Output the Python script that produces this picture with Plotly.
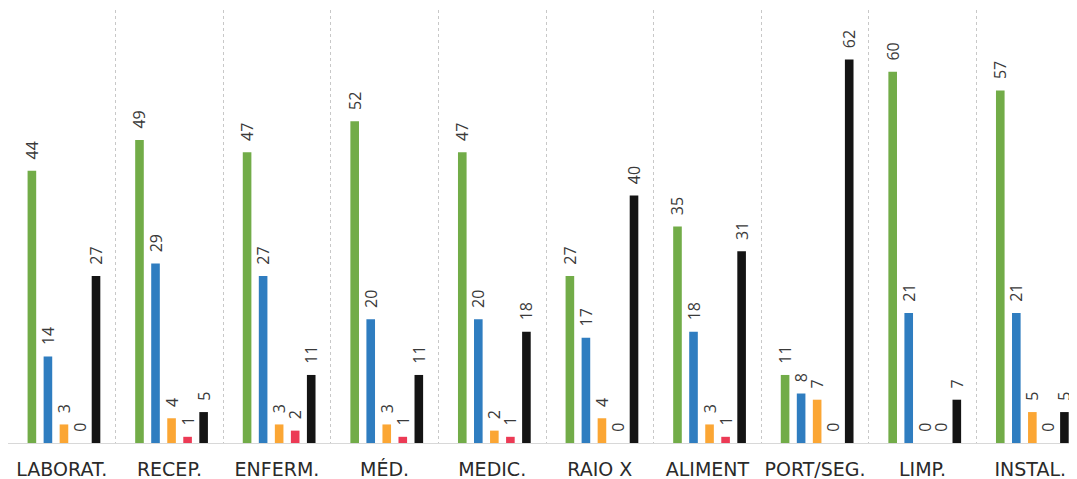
import plotly.graph_objects as go

categories = ["LABORAT.", "RECEP.", "ENFERM.", "MÉD.", "MEDIC.", "RAIO X",
              "ALIMENT", "PORT/SEG.", "LIMP.", "INSTAL."]
series_green = [44, 49, 47, 52, 47, 27, 35, 11, 60, 57]
series_blue = [14, 29, 27, 20, 20, 17, 18, 8, 21, 21]
series_orange = [3, 4, 3, 3, 2, 4, 3, 7, 0, 5]
series_red = [0, 1, 2, 1, 1, 0, 1, 0, 0, 0]
series_black = [27, 5, 11, 11, 18, 40, 31, 62, 7, 5]

series = [
    ("Verde", series_green, "#72AC48"),
    ("Azul", series_blue, "#2F7DC0"),
    ("Laranja", series_orange, "#FBA634"),
    ("Vermelho", series_red, "#EC3A55"),
    ("Preto", series_black, "#141414"),
]

xpos = list(range(len(categories)))

# bar geometry (in category units)
BAR_W = 0.08
SLOT = 0.149
GROUP_SHIFT = 0.02
PAD = "\u00a0\u00a0"

fig = go.Figure()
n = len(series)
for k, (name, vals, color) in enumerate(series):
    center = GROUP_SHIFT + (k - (n - 1) / 2) * SLOT
    fig.add_trace(go.Bar(
        x=xpos, y=vals, name=name,
        width=BAR_W, offset=center - BAR_W / 2,
        marker=dict(color=color, line=dict(width=0)),
        text=[PAD + str(v) for v in vals],
        textposition="outside",
        textangle=-90,
        textfont=dict(family="Open Sans, sans-serif", size=16, color="#3a3a3a"),
        cliponaxis=False,
    ))

fig.update_layout(
    width=1069, height=471,
    margin=dict(l=0, r=0, t=2, b=36, autoexpand=False),
    paper_bgcolor="white", plot_bgcolor="white",
    barmode="overlay",
    showlegend=False,
    uniformtext=dict(minsize=8, mode="show"),
)
fig.update_xaxes(
    range=[-0.5, 9.435],
    automargin=False,
    tickmode="array", tickvals=xpos, ticktext=categories,
    tickfont=dict(family="DejaVu Sans, sans-serif", size=19, color="#2a2a2a"),
    ticklabelstandoff=9,
    showgrid=False, zeroline=False,
    showline=True, linecolor="#d8d8d8", linewidth=1,
    ticks="", ticklen=0,
    minor=dict(showgrid=True, tick0=-0.5, dtick=1, gridcolor="#c8c8c8",
               griddash="dot", gridwidth=1),
)
fig.update_yaxes(
    range=[0, 70], automargin=False, showgrid=False, zeroline=False,
    showticklabels=False, showline=False,
)

fig.write_html("out.html")
